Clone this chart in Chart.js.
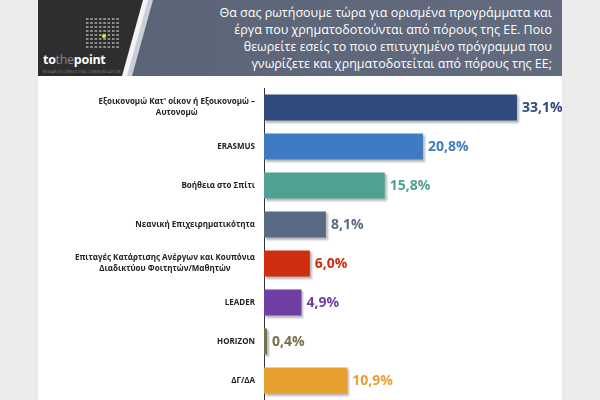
<!DOCTYPE html>
<html>
<head>
<meta charset="utf-8">
<script src="https://cdn.jsdelivr.net/npm/chart.js@4.4.1/dist/chart.umd.min.js"></script>
<style>
  body { margin: 0; background: #ececec; width: 600px; height: 400px; overflow: hidden; font-family: "Open Sans", sans-serif; }
  #page { position: absolute; left: 38px; top: 0; width: 524px; height: 400px; background: #fff; }
  #head { position: absolute; left: 0; top: 0; width: 524px; height: 76px; background: linear-gradient(90deg, #5a6275, #636b7e); }
  .band { position: absolute; left: 0; top: 0; width: 524px; height: 76px; }
  #light { background: #c9ced8; clip-path: polygon(0 0, 115px 0, 94px 76px, 0 76px); }
  #white { background: #f4f4f4; clip-path: polygon(0 0, 110px 0, 89px 76px, 0 76px); }
  #dark { background: #2e2e2e; clip-path: polygon(0 0, 105px 0, 84px 76px, 0 76px); }
  #dots { position: absolute; left: 47px; top: 17px; width: 35px; height: 32px;
    background-image: radial-gradient(circle, #8c8c8c 1.3px, transparent 1.5px); background-size: 4.35px 4px; }
  #ydot { position: absolute; left: 64px; top: 34px; width: 4px; height: 4px; border-radius: 2px; background: #d8e84a; }
  #brand { position: absolute; left: 5px; top: 51px; font-size: 12.5px; font-weight: bold; color: #fff; letter-spacing: -0.3px; }
  #brand span { color: #8a8a8a; font-weight: normal; }
  #tag { position: absolute; left: 5px; top: 70px; font-size: 3.2px; color: #888; letter-spacing: 0.4px; white-space: nowrap; }
  #title { position: absolute; right: 10px; top: 4px; width: 400px; text-align: right; color: #fff; font-size: 12.5px; line-height: 17px; white-space: nowrap; }
  #wrap { position: absolute; left: 0; top: 80px; width: 524px; height: 320px; }
</style>
</head>
<body>
<div id="page">
  <div id="head">
    <div class="band" id="light"></div>
    <div class="band" id="white"></div>
    <div class="band" id="dark"></div>
    <div id="dots"></div>
    <div id="ydot"></div>
    <div id="brand">to<span>the</span>point</div>
    <div id="tag">RESEARCH CONSULTING COMMUNICATION</div>
    <div id="title">Θα σας ρωτήσουμε τώρα για ορισμένα προγράμματα και<br>έργα που χρηματοδοτούνται από πόρους της ΕΕ. Ποιο<br>θεωρείτε εσείς το ποιο επιτυχημένο πρόγραμμα που<br>γνωρίζετε και χρηματοδοτείται από πόρους της ΕΕ;</div>
  </div>
  <div id="wrap"><canvas id="chart"></canvas></div>
</div>
<script>
const categories = [
  ["Εξοικονομώ Κατ' οίκον ή Εξοικονομώ –", "Αυτονομώ"],
  ["ERASMUS"],
  ["Βοήθεια στο Σπίτι"],
  ["Νεανική Επιχειρηματικότητα"],
  ["Επιταγές Κατάρτισης Ανέργων και Κουπόνια", "Διαδικτύου Φοιτητών/Μαθητών"],
  ["LEADER"],
  ["HORIZON"],
  ["ΔΓ/ΔΑ"]
];
const values = [33.1, 20.8, 15.8, 8.1, 6.0, 4.9, 0.4, 10.9];
const valueLabels = ["33,1%", "20,8%", "15,8%", "8,1%", "6,0%", "4,9%", "0,4%", "10,9%"];
const colors = ["#2f4a7d", "#3f7bc3", "#4fa293", "#5b6a84", "#cf2e0e", "#6f3fa6", "#77704e", "#e6a02e"];

const shadowPlugin = {
  id: 'barShadow',
  beforeDatasetsDraw(chart) {
    const ctx = chart.ctx;
    ctx.save();
    ctx.shadowColor = 'rgba(0,0,0,0.28)';
    ctx.shadowOffsetX = 2;
    ctx.shadowOffsetY = 2;
    ctx.shadowBlur = 2;
  },
  afterDatasetsDraw(chart) {
    chart.ctx.restore();
  }
};

const labelsPlugin = {
  id: 'labels',
  afterDraw(chart) {
    const ctx = chart.ctx;
    const y = chart.scales.y;
    const meta = chart.getDatasetMeta(0);
    ctx.save();
    // category labels: block right aligned, lines centred in block
    ctx.font = 'bold 8px "Open Sans"';
    ctx.fillStyle = '#222';
    ctx.textAlign = 'center';
    ctx.textBaseline = 'middle';
    const right = chart.chartArea.left - 9;
    categories.forEach((lines, i) => {
      const w = Math.max(...lines.map(l => ctx.measureText(l).width));
      const cy = y.getPixelForValue(i) - (lines.length - 1) * 5.5;
      lines.forEach((l, j) => ctx.fillText(l, right - w / 2, cy + j * 11));
    });
    // value labels
    ctx.font = 'bold 14px "Open Sans"';
    ctx.textAlign = 'left';
    meta.data.forEach((bar, i) => {
      ctx.fillStyle = colors[i];
      ctx.fillText(valueLabels[i], bar.x + 5, bar.y + 1);
    });
    ctx.restore();
  }
};

new Chart(document.getElementById('chart'), {
  type: 'bar',
  data: {
    labels: categories,
    datasets: [{ data: values, backgroundColor: colors, barPercentage: 0.67, categoryPercentage: 1 }]
  },
  options: {
    indexAxis: 'y',
    responsive: true,
    maintainAspectRatio: false,
    animation: false,
    layout: { padding: { top: 8, right: 0, bottom: 0, left: 0 } },
    plugins: { legend: { display: false }, tooltip: { enabled: false } },
    scales: {
      x: { display: false, min: 0, max: 39 },
      y: {
        ticks: { display: false },
        grid: { display: false },
        border: { display: true, color: '#333', width: 1 },
        afterFit(scale) { scale.width = 226; }
      }
    }
  },
  plugins: [shadowPlugin, labelsPlugin]
});
</script>
</body>
</html>
